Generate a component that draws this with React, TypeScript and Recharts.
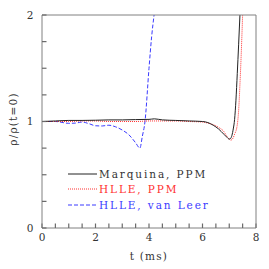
import { LineChart, Line, XAxis, YAxis } from "recharts";

// time (ms) and density ratio for each run
const marquinaT = [0, 0.5, 1, 1.5, 2, 2.5, 3, 3.5, 4, 4.2, 4.5, 5, 5.5, 6, 6.2, 6.4, 6.6, 6.8, 6.9, 7.0, 7.05, 7.1, 7.15, 7.2, 7.25, 7.3, 7.35, 7.4];
const marquinaRho = [1.0, 1.005, 1.01, 1.01, 1.012, 1.015, 1.015, 1.018, 1.02, 1.025, 1.015, 1.01, 1.005, 1.0, 0.99, 0.965, 0.93, 0.88, 0.855, 0.835, 0.84, 0.87, 0.93, 1.02, 1.2, 1.45, 1.72, 2.0];

const hllePpmT = [0, 0.5, 1, 1.5, 2, 2.5, 3, 3.5, 4, 4.5, 5, 5.5, 6, 6.2, 6.4, 6.6, 6.8, 6.9, 7.0, 7.05, 7.1, 7.2, 7.3, 7.35, 7.4, 7.45, 7.5];
const hllePpmRho = [1.0, 1.0, 1.0, 1.005, 1.005, 1.0, 1.0, 1.0, 1.005, 1.005, 1.005, 1.0, 0.995, 0.985, 0.97, 0.945, 0.905, 0.865, 0.835, 0.825, 0.83, 0.88, 0.97, 1.1, 1.35, 1.65, 2.0];

const hlleVlT = [0, 0.5, 1, 1.25, 1.5, 1.75, 2, 2.25, 2.5, 2.75, 3, 3.25, 3.5, 3.66, 3.75, 3.85, 4.0, 4.1, 4.19];
const hlleVlRho = [1.0, 1.0, 0.983, 0.985, 0.995, 0.98, 0.96, 0.958, 0.965, 0.95, 0.92, 0.875, 0.8, 0.75, 0.86, 1.0, 1.5, 1.8, 2.0];

const xTicks = [0, 0.5, 1, 1.5, 2, 2.5, 3, 3.5, 4, 4.5, 5, 5.5, 6, 6.5, 7, 7.5, 8];
const xLabels = [0, 2, 4, 6, 8];
const yTicks = [0, 0.25, 0.5, 0.75, 1, 1.25, 1.5, 1.75, 2];
const yLabels = [0, 1, 2];

const legendItems = [
  { name: "Marquina, PPM", color: "#222", text: "#333", dash: "" },
  { name: "HLLE, PPM", color: "#ff3030", text: "#ff3030", dash: "1 1" },
  { name: "HLLE, van Leer", color: "#3b3bff", text: "#3b3bff", dash: "4 2" },
];

const toRows = (t: number[], v: number[]) => t.map((x, i) => ({ t: x, rho: v[i] }));

const FONT = "DejaVu Serif, serif";
const AXIS = "#808080";
const TICK = "#6a6a6a";

// tick label that only writes the labelled (major) values
const makeTick = (labels: number[]) => (props: any) => {
  const { x, y, payload, textAnchor } = props;
  if (!labels.includes(payload.value)) return <g />;
  return (
    <text x={x} y={y} dy="0.35em" textAnchor={textAnchor} fontSize={10.5} fontFamily={FONT} fill="#333">
      {payload.value}
    </text>
  );
};
const blank = () => <g />;
const tickLine = { stroke: TICK, strokeWidth: 1.2 };

export default function App() {
  return (
    <div style={{ position: "absolute", left: 0, top: 0, width: 269, height: 269, background: "#fff" }}>
      <LineChart width={269} height={269} margin={{ top: 14, right: 12, left: 0, bottom: 0 }}>
        <XAxis
          dataKey="t"
          type="number"
          domain={[0, 8]}
          ticks={xTicks}
          interval={0}
          height={41}
          tickSize={-4.5}
          tickMargin={14}
          stroke={AXIS}
          tickLine={tickLine}
          tick={makeTick(xLabels)}
          allowDataOverflow
        />
        <XAxis
          xAxisId="top"
          orientation="top"
          type="number"
          domain={[0, 8]}
          ticks={xTicks}
          interval={0}
          height={1}
          tickSize={-4.5}
          stroke={AXIS}
          tickLine={tickLine}
          tick={blank}
        />
        <YAxis
          type="number"
          domain={[0, 2]}
          ticks={yTicks}
          interval={0}
          width={42}
          tickSize={-4.5}
          tickMargin={13}
          stroke={AXIS}
          tickLine={tickLine}
          tick={makeTick(yLabels)}
          allowDataOverflow
        />
        <YAxis
          yAxisId="right"
          orientation="right"
          type="number"
          domain={[0, 2]}
          ticks={yTicks}
          interval={0}
          width={1}
          tickSize={-4.5}
          stroke={AXIS}
          tickLine={tickLine}
          tick={blank}
        />
        <Line
          data={toRows(hlleVlT, hlleVlRho)}
          dataKey="rho"
          type="monotone"
          stroke="#3b3bff"
          strokeDasharray="4 2"
          strokeWidth={1}
          dot={false}
          isAnimationActive={false}
        />
        <Line
          data={toRows(hllePpmT, hllePpmRho)}
          dataKey="rho"
          type="monotone"
          stroke="#ff3030"
          strokeDasharray="1 1"
          strokeWidth={1}
          dot={false}
          isAnimationActive={false}
        />
        <Line
          data={toRows(marquinaT, marquinaRho)}
          dataKey="rho"
          type="monotone"
          stroke="#222"
          strokeWidth={1}
          dot={false}
          isAnimationActive={false}
        />
      </LineChart>

      <div style={{ position: "absolute", left: 68, top: 166, fontFamily: FONT, fontSize: 10.5, letterSpacing: "1.9px" }}>
        {legendItems.map((it) => (
          <div key={it.name} style={{ display: "flex", alignItems: "center", height: 15.5, whiteSpace: "nowrap" }}>
            <svg width={29} height={4} style={{ marginRight: 2 }}>
              <line x1={0} y1={2} x2={29} y2={2} stroke={it.color} strokeDasharray={it.dash} />
            </svg>
            <span style={{ color: it.text }}>{it.name}</span>
          </div>
        ))}
      </div>

      <div
        style={{
          position: "absolute",
          left: 149,
          top: 256,
          lineHeight: "12px",
          transform: "translate(-50%, -50%)",
          fontFamily: FONT,
          fontSize: 10.5,
          letterSpacing: "1.2px",
          color: "#333",
          whiteSpace: "nowrap",
        }}
      >
        t (ms)
      </div>
      <div
        style={{
          position: "absolute",
          left: 13,
          top: 119,
          lineHeight: "12px",
          transform: "translate(-50%, -50%) rotate(-90deg)",
          fontFamily: FONT,
          fontSize: 10.5,
          letterSpacing: "1.2px",
          color: "#333",
          whiteSpace: "nowrap",
        }}
      >
        ρ/ρ(t=0)
      </div>
    </div>
  );
}
